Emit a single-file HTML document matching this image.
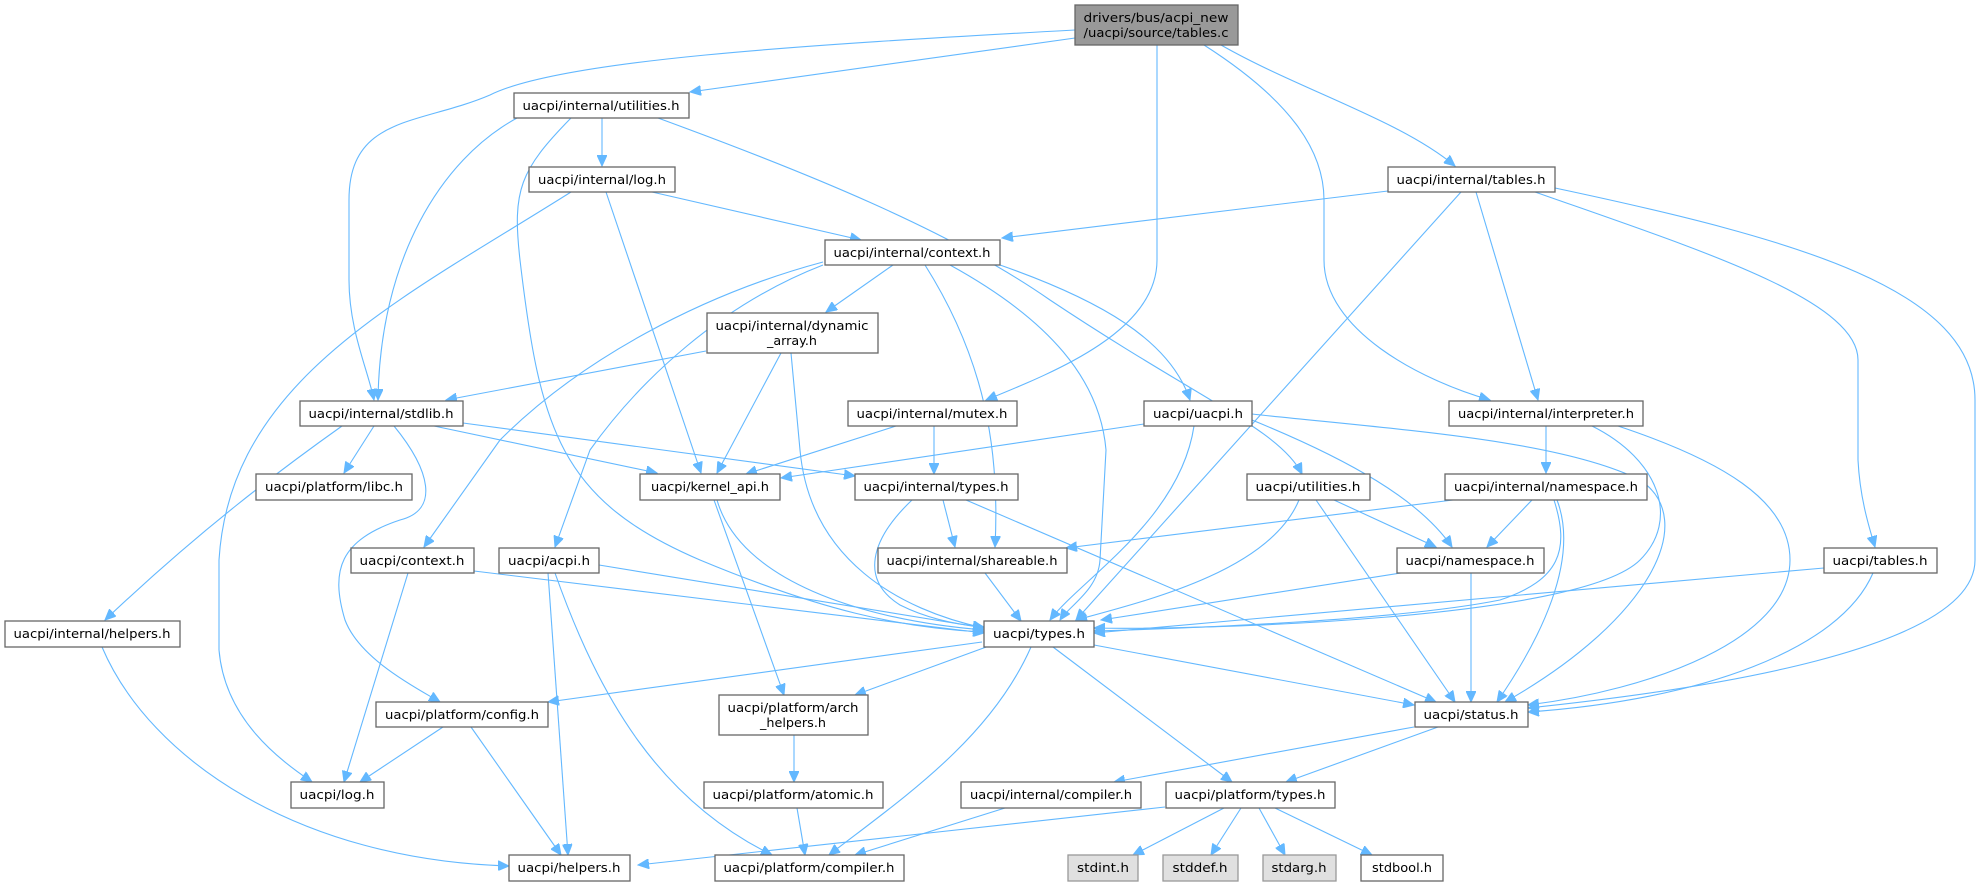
<!DOCTYPE html>
<html><head><meta charset="utf-8"><style>
html,body{margin:0;padding:0;background:#fff;}
svg{display:block;}
.n rect{fill:#fff;stroke:#666;stroke-width:1.3}
.n.g rect{fill:#e0e0e0;stroke:#999}
.n.s rect{fill:#999;stroke:#666}
text{font-family:"DejaVu Sans","Liberation Sans",sans-serif;font-size:12px;fill:#000;text-anchor:middle}
.e path{fill:none;stroke:#63b8ff;stroke-width:1.1}
</style></head><body>
<svg width="1981" height="887" viewBox="0 0 1981 887" xmlns="http://www.w3.org/2000/svg">
<defs><marker id="a" markerUnits="userSpaceOnUse" markerWidth="12" markerHeight="10" refX="11" refY="5" orient="auto"><path d="M0,0 L11,5 L0,10 z" fill="#63b8ff" stroke="#63b8ff"/></marker></defs>
<g class="e">
<path marker-end="url(#a)" d="M1075,30 C800,45 560,60 490,95 C420,125 349,115 349,200 L349,280 C349,330 368,370 374,400"/>
<path marker-end="url(#a)" d="M1075,38 L690,92"/>
<path marker-end="url(#a)" d="M1157,45 L1157,260 C1157,330 1060,370 986,400"/>
<path marker-end="url(#a)" d="M1204,45 C1290,100 1324,150 1324,200 L1324,260 C1324,330 1420,380 1490,400"/>
<path marker-end="url(#a)" d="M1221,45 C1300,90 1400,120 1455,166"/>
<path marker-end="url(#a)" d="M517,118 C440,160 380,260 378,400"/>
<path marker-end="url(#a)" d="M571,118 C520,170 512,190 520,260 C540,430 560,500 700,560 C820,610 900,628 984,632"/>
<path marker-end="url(#a)" d="M602,118 L602,166"/>
<path marker-end="url(#a)" d="M658,118 C800,170 950,230 1050,300 C1200,400 1280,430 1302,474"/>
<path marker-end="url(#a)" d="M571,192 C400,300 230,380 219,560 L219,650 C225,720 280,760 312,782"/>
<path marker-end="url(#a)" d="M606,192 L701,473"/>
<path marker-end="url(#a)" d="M652,192 L861,240"/>
<path marker-end="url(#a)" d="M1388,191 L1002,238"/>
<path marker-end="url(#a)" d="M1461,192 L1076,620"/>
<path marker-end="url(#a)" d="M1476,192 L1538,400"/>
<path marker-end="url(#a)" d="M1535,192 C1700,250 1858,300 1858,360 L1858,460 C1860,500 1870,530 1875,547"/>
<path marker-end="url(#a)" d="M1555,188 C1800,240 1975,290 1975,400 L1975,560 C1975,650 1700,690 1528,708"/>
<path marker-end="url(#a)" d="M823,262 C700,295 580,360 500,440 L424,547"/>
<path marker-end="url(#a)" d="M823,265 C720,305 640,380 590,450 L555,547"/>
<path marker-end="url(#a)" d="M893,265 L826,312"/>
<path marker-end="url(#a)" d="M925,265 C985,360 1000,450 995,547"/>
<path marker-end="url(#a)" d="M950,265 C1050,320 1100,380 1106,450 L1100,560 C1098,590 1070,605 1060,620"/>
<path marker-end="url(#a)" d="M1000,265 C1100,300 1170,340 1190,400"/>
<path marker-end="url(#a)" d="M706,351 L446,400"/>
<path marker-end="url(#a)" d="M781,353 L717,473"/>
<path marker-end="url(#a)" d="M791,353 L800,450 C810,560 900,610 984,628"/>
<path marker-end="url(#a)" d="M342,426 C280,470 200,530 105,620"/>
<path marker-end="url(#a)" d="M374,426 L344,473"/>
<path marker-end="url(#a)" d="M394,426 C430,470 440,510 400,520 C340,540 330,570 345,620 C360,660 420,690 440,702"/>
<path marker-end="url(#a)" d="M434,426 L657,473"/>
<path marker-end="url(#a)" d="M463,423 L855,476"/>
<path marker-end="url(#a)" d="M896,426 L746,474"/>
<path marker-end="url(#a)" d="M934,426 L934,474"/>
<path marker-end="url(#a)" d="M1144,424 L781,478"/>
<path marker-end="url(#a)" d="M1194,426 C1180,520 1080,580 1050,620"/>
<path marker-end="url(#a)" d="M1252,420 C1350,460 1420,500 1452,547"/>
<path marker-end="url(#a)" d="M1252,414 C1400,430 1560,440 1640,480 C1700,520 1650,620 1505,702"/>
<path marker-end="url(#a)" d="M1546,426 L1546,473"/>
<path marker-end="url(#a)" d="M1592,426 C1660,460 1680,520 1640,560 C1580,620 1200,630 1094,628"/>
<path marker-end="url(#a)" d="M1618,426 C1720,460 1790,500 1790,560 C1790,640 1650,690 1528,705"/>
<path marker-end="url(#a)" d="M1453,500 L1066,548"/>
<path marker-end="url(#a)" d="M1532,500 L1487,547"/>
<path marker-end="url(#a)" d="M1554,500 C1570,550 1560,580 1500,600 C1400,620 1200,628 1094,631"/>
<path marker-end="url(#a)" d="M1557,500 C1580,560 1540,640 1497,702"/>
<path marker-end="url(#a)" d="M714,500 L784,695"/>
<path marker-end="url(#a)" d="M717,500 C740,580 860,620 984,630"/>
<path marker-end="url(#a)" d="M912,500 C870,540 860,580 900,605 C930,620 960,625 984,627"/>
<path marker-end="url(#a)" d="M943,500 L955,547"/>
<path marker-end="url(#a)" d="M966,500 L1436,702"/>
<path marker-end="url(#a)" d="M1299,500 C1270,570 1150,600 1076,620"/>
<path marker-end="url(#a)" d="M1334,500 L1436,547"/>
<path marker-end="url(#a)" d="M1316,500 L1455,702"/>
<path marker-end="url(#a)" d="M474,571 L984,633"/>
<path marker-end="url(#a)" d="M408,573 L344,782"/>
<path marker-end="url(#a)" d="M599,565 L984,628"/>
<path marker-end="url(#a)" d="M548,573 L568,855"/>
<path marker-end="url(#a)" d="M555,573 C600,700 660,800 772,855"/>
<path marker-end="url(#a)" d="M985,573 L1021,621"/>
<path marker-end="url(#a)" d="M1401,573 L1101,620"/>
<path marker-end="url(#a)" d="M1471,573 L1471,702"/>
<path marker-end="url(#a)" d="M1824,568 L1094,633"/>
<path marker-end="url(#a)" d="M1873,573 C1840,650 1700,700 1528,712"/>
<path marker-end="url(#a)" d="M102,647 C150,760 300,860 509,866"/>
<path marker-end="url(#a)" d="M982,642 L548,702"/>
<path marker-end="url(#a)" d="M989,646 L855,695"/>
<path marker-end="url(#a)" d="M1031,647 C990,740 900,800 829,855"/>
<path marker-end="url(#a)" d="M1053,647 L1232,782"/>
<path marker-end="url(#a)" d="M1094,645 L1414,705"/>
<path marker-end="url(#a)" d="M443,727 L360,782"/>
<path marker-end="url(#a)" d="M471,727 L561,855"/>
<path marker-end="url(#a)" d="M794,735 L794,782"/>
<path marker-end="url(#a)" d="M797,808 L805,855"/>
<path marker-end="url(#a)" d="M1414,727 L1114,782"/>
<path marker-end="url(#a)" d="M1438,727 L1286,782"/>
<path marker-end="url(#a)" d="M1005,808 L855,855"/>
<path marker-end="url(#a)" d="M1165,807 L638,865"/>
<path marker-end="url(#a)" d="M1224,808 L1133,855"/>
<path marker-end="url(#a)" d="M1241,808 L1211,855"/>
<path marker-end="url(#a)" d="M1259,808 L1285,855"/>
<path marker-end="url(#a)" d="M1275,808 L1372,855"/>
</g>
<g class="n s"><rect x="1075" y="5" width="163" height="40"/><text x="1156" y="22" textLength="145" lengthAdjust="spacingAndGlyphs">drivers/bus/acpi_new</text><text x="1156" y="37" textLength="145" lengthAdjust="spacingAndGlyphs">/uacpi/source/tables.c</text></g>
<g class="n"><rect x="514" y="93" width="175" height="25"/><text x="601" y="110" textLength="157" lengthAdjust="spacingAndGlyphs">uacpi/internal/utilities.h</text></g>
<g class="n"><rect x="529" y="167" width="146" height="25"/><text x="602" y="184" textLength="128" lengthAdjust="spacingAndGlyphs">uacpi/internal/log.h</text></g>
<g class="n"><rect x="1388" y="167" width="167" height="25"/><text x="1471" y="184" textLength="149" lengthAdjust="spacingAndGlyphs">uacpi/internal/tables.h</text></g>
<g class="n"><rect x="825" y="240" width="175" height="25"/><text x="912" y="257" textLength="157" lengthAdjust="spacingAndGlyphs">uacpi/internal/context.h</text></g>
<g class="n"><rect x="707" y="313" width="171" height="40"/><text x="792" y="330" textLength="153" lengthAdjust="spacingAndGlyphs">uacpi/internal/dynamic</text><text x="792" y="345" textLength="50" lengthAdjust="spacingAndGlyphs">_array.h</text></g>
<g class="n"><rect x="300" y="401" width="163" height="25"/><text x="381" y="418" textLength="145" lengthAdjust="spacingAndGlyphs">uacpi/internal/stdlib.h</text></g>
<g class="n"><rect x="848" y="401" width="169" height="25"/><text x="932" y="418" textLength="151" lengthAdjust="spacingAndGlyphs">uacpi/internal/mutex.h</text></g>
<g class="n"><rect x="1144" y="401" width="108" height="25"/><text x="1198" y="418" textLength="90" lengthAdjust="spacingAndGlyphs">uacpi/uacpi.h</text></g>
<g class="n"><rect x="1449" y="401" width="194" height="25"/><text x="1546" y="418" textLength="176" lengthAdjust="spacingAndGlyphs">uacpi/internal/interpreter.h</text></g>
<g class="n"><rect x="256" y="474" width="156" height="26"/><text x="334" y="491" textLength="138" lengthAdjust="spacingAndGlyphs">uacpi/platform/libc.h</text></g>
<g class="n"><rect x="640" y="474" width="140" height="26"/><text x="710" y="491" textLength="118" lengthAdjust="spacingAndGlyphs">uacpi/kernel_api.h</text></g>
<g class="n"><rect x="855" y="474" width="163" height="26"/><text x="936" y="491" textLength="145" lengthAdjust="spacingAndGlyphs">uacpi/internal/types.h</text></g>
<g class="n"><rect x="1247" y="474" width="123" height="26"/><text x="1308" y="491" textLength="105" lengthAdjust="spacingAndGlyphs">uacpi/utilities.h</text></g>
<g class="n"><rect x="1445" y="474" width="202" height="26"/><text x="1546" y="491" textLength="184" lengthAdjust="spacingAndGlyphs">uacpi/internal/namespace.h</text></g>
<g class="n"><rect x="351" y="548" width="123" height="25"/><text x="412" y="565" textLength="105" lengthAdjust="spacingAndGlyphs">uacpi/context.h</text></g>
<g class="n"><rect x="499" y="548" width="100" height="25"/><text x="549" y="565" textLength="82" lengthAdjust="spacingAndGlyphs">uacpi/acpi.h</text></g>
<g class="n"><rect x="878" y="548" width="189" height="25"/><text x="972" y="565" textLength="171" lengthAdjust="spacingAndGlyphs">uacpi/internal/shareable.h</text></g>
<g class="n"><rect x="1397" y="548" width="147" height="25"/><text x="1470" y="565" textLength="129" lengthAdjust="spacingAndGlyphs">uacpi/namespace.h</text></g>
<g class="n"><rect x="1824" y="548" width="113" height="25"/><text x="1880" y="565" textLength="95" lengthAdjust="spacingAndGlyphs">uacpi/tables.h</text></g>
<g class="n"><rect x="5" y="621" width="175" height="26"/><text x="92" y="638" textLength="157" lengthAdjust="spacingAndGlyphs">uacpi/internal/helpers.h</text></g>
<g class="n"><rect x="984" y="621" width="110" height="26"/><text x="1039" y="638" textLength="92" lengthAdjust="spacingAndGlyphs">uacpi/types.h</text></g>
<g class="n"><rect x="376" y="702" width="172" height="25"/><text x="462" y="719" textLength="154" lengthAdjust="spacingAndGlyphs">uacpi/platform/config.h</text></g>
<g class="n"><rect x="719" y="695" width="149" height="40"/><text x="793" y="712" textLength="131" lengthAdjust="spacingAndGlyphs">uacpi/platform/arch</text><text x="793" y="727" textLength="66" lengthAdjust="spacingAndGlyphs">_helpers.h</text></g>
<g class="n"><rect x="1415" y="702" width="113" height="25"/><text x="1471" y="719" textLength="95" lengthAdjust="spacingAndGlyphs">uacpi/status.h</text></g>
<g class="n"><rect x="291" y="782" width="93" height="26"/><text x="337" y="799" textLength="75" lengthAdjust="spacingAndGlyphs">uacpi/log.h</text></g>
<g class="n"><rect x="704" y="782" width="179" height="26"/><text x="793" y="799" textLength="161" lengthAdjust="spacingAndGlyphs">uacpi/platform/atomic.h</text></g>
<g class="n"><rect x="961" y="782" width="180" height="26"/><text x="1051" y="799" textLength="162" lengthAdjust="spacingAndGlyphs">uacpi/internal/compiler.h</text></g>
<g class="n"><rect x="1166" y="782" width="169" height="26"/><text x="1250" y="799" textLength="151" lengthAdjust="spacingAndGlyphs">uacpi/platform/types.h</text></g>
<g class="n"><rect x="509" y="855" width="121" height="26"/><text x="569" y="872" textLength="103" lengthAdjust="spacingAndGlyphs">uacpi/helpers.h</text></g>
<g class="n"><rect x="715" y="855" width="189" height="26"/><text x="809" y="872" textLength="171" lengthAdjust="spacingAndGlyphs">uacpi/platform/compiler.h</text></g>
<g class="n g"><rect x="1068" y="855" width="70" height="26"/><text x="1103" y="872" textLength="52" lengthAdjust="spacingAndGlyphs">stdint.h</text></g>
<g class="n g"><rect x="1163" y="855" width="75" height="26"/><text x="1200" y="872" textLength="55" lengthAdjust="spacingAndGlyphs">stddef.h</text></g>
<g class="n g"><rect x="1263" y="855" width="73" height="26"/><text x="1299" y="872" textLength="55" lengthAdjust="spacingAndGlyphs">stdarg.h</text></g>
<g class="n"><rect x="1361" y="855" width="82" height="26"/><text x="1402" y="872" textLength="60" lengthAdjust="spacingAndGlyphs">stdbool.h</text></g>
</svg>
</body></html>
